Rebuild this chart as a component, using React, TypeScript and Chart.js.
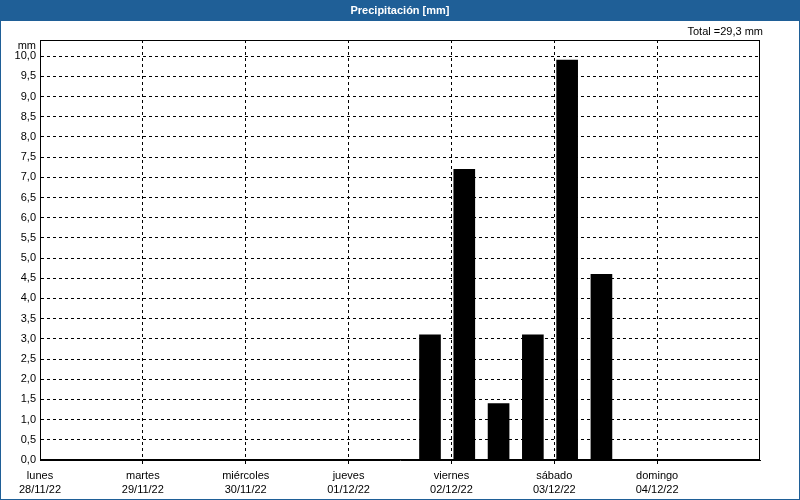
import React, { useEffect, useRef } from "react";
import { Chart, registerables } from "chart.js";

Chart.register(...registerables);

const TITLE = "Precipitación [mm]";
const TOTAL_LABEL = "Total =29,3 mm";
const UNIT_LABEL = "mm";
const dayNames = ["lunes", "martes", "miércoles", "jueves", "viernes", "sábado", "domingo"];
const dayDates = ["28/11/22", "29/11/22", "30/11/22", "01/12/22", "02/12/22", "03/12/22", "04/12/22"];
// bar centres in hours since Monday 00:00
const barHours = [91, 99, 107, 115, 123, 131];
const precipitation = [3.1, 7.2, 1.4, 3.1, 9.9, 4.6];
const xMaxHours = 168;
const yMax = 10;
const yStep = 0.5;

const FONT = "'Liberation Sans', Arial, sans-serif";

const framePlugin = {
  id: "frame",
  beforeDraw(chart: any) {
    const { ctx, width, height } = chart;
    ctx.save();
    ctx.fillStyle = "#ffffff";
    ctx.fillRect(0, 0, width, height);
    ctx.restore();
  },
  afterDraw(chart: any) {
    const { ctx, width, height, chartArea } = chart;
    ctx.save();
    // header bar
    ctx.fillStyle = "#1f5f97";
    ctx.fillRect(0, 0, width, 21);
    // outer frame
    ctx.strokeStyle = "#1f5f97";
    ctx.lineWidth = 1;
    ctx.strokeRect(0.5, 0.5, width - 1, height - 1);
    // title
    ctx.fillStyle = "#ffffff";
    ctx.font = `bold 11px ${FONT}`;
    ctx.textAlign = "center";
    ctx.textBaseline = "middle";
    ctx.fillText(TITLE, width / 2, 11);
    // total
    ctx.fillStyle = "#000000";
    ctx.font = `11px ${FONT}`;
    ctx.textAlign = "right";
    ctx.fillText(TOTAL_LABEL, 763, 32);
    // unit
    ctx.fillText(UNIT_LABEL, 36, 46);
    // plot frame
    ctx.strokeStyle = "#000000";
    ctx.lineWidth = 1;
    ctx.setLineDash([]);
    const l = Math.round(chartArea.left) + 0.5;
    const t = Math.round(chartArea.top) + 0.5;
    const r = Math.round(chartArea.right) - 0.5;
    const b = Math.round(chartArea.bottom) - 0.5;
    ctx.strokeRect(l, t, r - l, b - t);
    ctx.restore();
  },
};

export default function App() {
  const canvasRef = useRef<HTMLCanvasElement | null>(null);

  useEffect(() => {
    document.body.style.margin = "0";
    const canvas = canvasRef.current;
    if (!canvas) return;
    const chart = new Chart(canvas, {
      type: "bar",
      data: {
        datasets: [
          {
            data: barHours.map((h, i) => ({ x: h, y: precipitation[i] })),
            backgroundColor: "#000000",
            borderWidth: 0,
            barThickness: 21,
          },
        ],
      },
      plugins: [framePlugin],
      options: {
        responsive: false,
        animation: false,
        devicePixelRatio: 1,
        layout: { padding: { left: 0, right: 40, top: 40, bottom: 0 } },
        plugins: {
          legend: { display: false },
          tooltip: { enabled: false },
          title: { display: false },
        },
        scales: {
          x: {
            type: "linear",
            min: 0,
            max: xMaxHours,
            offset: false,
            afterFit: (scale: any) => {
              scale.height = 40;
            },
            ticks: {
              stepSize: 24,
              autoSkip: false,
              maxRotation: 0,
              padding: 5,
              color: "#000000",
              font: { family: FONT, size: 11, lineHeight: 14 / 11 },
              callback: (v: any) => {
                const n = Number(v);
                if (Math.abs(n / 24 - Math.round(n / 24)) > 1e-6) return "";
                const i = Math.round(n / 24);
                if (i < 0 || i >= dayNames.length) return "";
                return [dayNames[i], dayDates[i]];
              },
            },
            grid: {
              offset: false,
              color: (ctx: any) => {
                const v = ctx.tick ? ctx.tick.value : 0;
                return v <= 0 || v >= xMaxHours ? "rgba(0,0,0,0)" : "#000000";
              },
              lineWidth: 1,
              drawTicks: true,
              tickLength: 4,
            },
            border: { display: true, color: "#000000", width: 1, dash: [3, 3] },
          },
          y: {
            min: 0,
            max: 10.4,
            afterFit: (scale: any) => {
              scale.width = 40;
            },
            afterBuildTicks: (scale: any) => {
              scale.ticks = scale.ticks.filter((t: any) => t.value <= yMax + 1e-9);
            },
            ticks: {
              stepSize: yStep,
              padding: 4,
              color: "#000000",
              font: { family: FONT, size: 11 },
              callback: (v: any) => Number(v).toFixed(1).replace(".", ","),
            },
            grid: {
              color: "#000000",
              lineWidth: 1,
              drawTicks: false,
            },
            border: { display: true, color: "#000000", width: 1, dash: [3, 3] },
          },
        },
      },
    });
    return () => chart.destroy();
  }, []);

  return (
    <div style={{ width: 800, height: 500 }}>
      <canvas ref={canvasRef} width={800} height={500} style={{ display: "block" }} />
    </div>
  );
}
